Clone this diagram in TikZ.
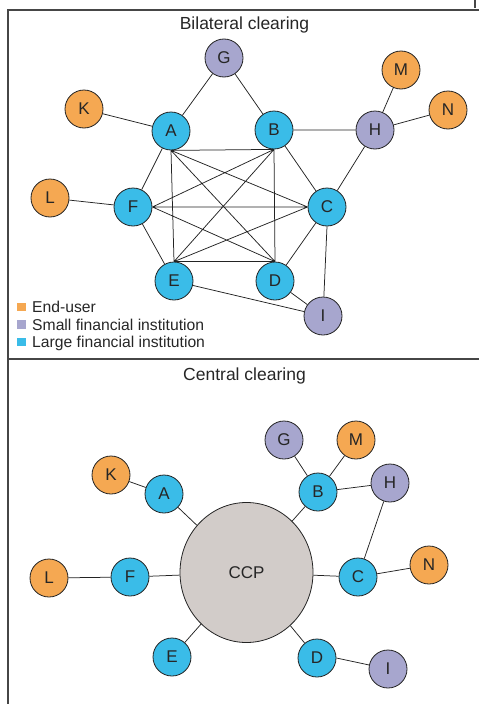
\documentclass[tikz,border=0pt]{standalone}
\usepackage{fontspec}
\setmainfont{Liberation Sans}
\usetikzlibrary{shapes.geometric,backgrounds}
\definecolor{enduser}{RGB}{245,168,82}
\definecolor{smallfi}{RGB}{167,166,206}
\definecolor{largefi}{RGB}{58,188,232}
\definecolor{ccpgray}{RGB}{210,204,201}
\definecolor{edgecol}{RGB}{35,35,35}
\definecolor{framecol}{RGB}{70,70,70}
\begin{document}
\begin{tikzpicture}[x=1pt,y=-1pt,
  party/.style={circle,draw=edgecol,line width=0.8pt,minimum size=38pt,inner sep=0pt,
    font=\fontsize{17}{20}\selectfont,text=black!85},
  eu/.style={party,fill=enduser},
  sf/.style={party,fill=smallfi},
  lf/.style={party,fill=largefi},
  link/.style={draw=edgecol,line width=0.75pt},
  frame/.style={draw=framecol,line width=1.2pt},
  paneltitle/.style={font=\fontsize{17.5}{20}\selectfont,text=black!85,anchor=base,inner sep=0pt},
  legtext/.style={font=\fontsize{15.7}{18}\selectfont,text=black!85,anchor=base west,inner sep=0pt},
  legbox/.style={minimum size=8.5pt,inner sep=0pt}]
\clip (0,0) rectangle (479,704);
\useasboundingbox (0,0) rectangle (479,704);

% edge of the box above the figure
\draw[frame] (475,0) -- (475,8);

% frame
\draw[frame] (8,704) -- (8,10) -- (480,10);
\draw[frame] (8,359) -- (480,359);

% ---------- Bilateral clearing ----------
\node[paneltitle] (t1) at (244.5,29.3) {Bilateral clearing};

\node[sf] (G) at (224,58) {G};
\node[eu] (K) at (84,109) {K};
\node[lf] (A) at (171,131) {A};
\node[lf] (B) at (274,130) {B};
\node[sf] (H) at (375,130) {H};
\node[eu] (M) at (401,70) {M};
\node[eu] (N) at (448,110) {N};
\node[eu] (L) at (50,198) {L};
\node[lf] (F) at (133,207) {F};
\node[lf] (C) at (327,207) {C};
\node[lf] (E) at (174,281) {E};
\node[lf] (D) at (275,281) {D};
\node[sf] (I) at (323,316) {I};

\begin{scope}[on background layer]
\path[link] (G) -- (A) (G) -- (B) (K) -- (A) (L) -- (F)
  (B) -- (H) (H) -- (M) (H) -- (N) (H) -- (C)
  (A) -- (F) (B) -- (C) (F) -- (E) (C) -- (D)
  (C.south) -- (I) (D) -- (I) (E) -- (I);
\path[link] (A.south) -- (B.south) (A.south) -- (E.north) (A.south) -- (D.north) (A.south) -- (C.west)
  (B.south) -- (F.east) (B.south) -- (E.north) (B.south) -- (D.north)
  (F.east) -- (C.west) (F.east) -- (D.north)
  (C.west) -- (E.north) (E.north) -- (D.north);
\end{scope}

% legend
\node[legbox,fill=enduser] (k1) at (21.5,307) {};
\node[legbox,fill=smallfi] (k2) at (21.5,324.5) {};
\node[legbox,fill=largefi] (k3) at (21.5,342) {};
\node[legtext] (l1) at (32,312.7) {End-user};
\node[legtext] (l2) at (32,330) {Small financial institution};
\node[legtext] (l3) at (32,347.3) {Large financial institution};

% ---------- Central clearing ----------
\node[paneltitle] (t2) at (244.5,380) {Central clearing};

\node[ellipse,draw=edgecol,line width=0.8pt,fill=ccpgray,minimum width=133pt,minimum height=140pt,inner sep=0pt,
  font=\fontsize{17}{20}\selectfont,text=black!85] (CCP) at (246.5,572.5) {CCP};
\node[eu] (K2) at (111,475) {K};
\node[lf] (A2) at (164,494) {A};
\node[sf] (G2) at (284,440) {G};
\node[eu] (M2) at (356,440) {M};
\node[lf] (B2) at (318,492) {B};
\node[sf] (H2) at (390,483) {H};
\node[eu] (L2) at (49,578) {L};
\node[lf] (F2) at (130,577) {F};
\node[lf] (C2) at (358,577) {C};
\node[eu] (N2) at (429,565) {N};
\node[lf] (E2) at (172,657) {E};
\node[lf] (D2) at (317,658) {D};
\node[sf] (I2) at (388,669) {I};

\path[link] (K2) -- (A2) (A2) -- (CCP) (L2) -- (F2) (F2) -- (CCP)
  (G2) -- (B2) (M2) -- (B2) (B2) -- (H2) (B2) -- (CCP)
  (H2) -- (C2) (C2) -- (N2) (C2) -- (CCP)
  (E2) -- (CCP) (D2) -- (CCP) (D2.east) -- (I2);
\end{tikzpicture}
\end{document}
